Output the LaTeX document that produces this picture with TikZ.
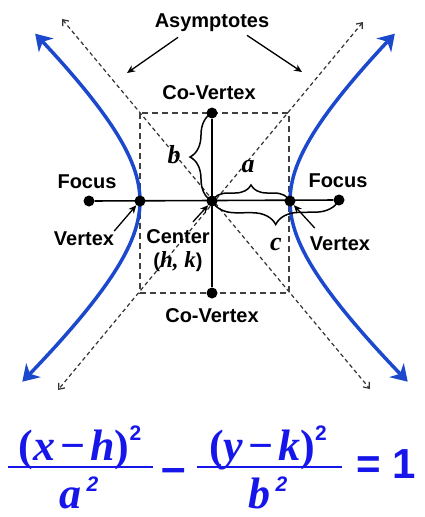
\documentclass[tikz,border=0pt]{standalone}
\usepackage{fontspec}
\setmainfont{Liberation Sans}
\newfontfamily\serifbi{Liberation Serif}
\usetikzlibrary{arrows.meta,positioning,decorations.pathreplacing}
\definecolor{hypblue}{RGB}{28,72,205}
\definecolor{eqblue}{RGB}{22,22,235}
\newcommand\eqit{\serifbi\bfseries\itshape}
\newcommand\equp{\serifbi\bfseries\upshape}
\newcommand\eqsq[1]{\raisebox{#1}{\fontsize{21}{21}\selectfont\rmfamily\bfseries 2}}

\begin{document}
\begin{tikzpicture}[x=1pt,y=-1pt,
lbl/.style={font=\fontsize{20}{22}\selectfont\bfseries,inner sep=0pt,anchor=base},
letter/.style={font=\fontsize{26}{28}\selectfont\eqit,inner sep=0pt,anchor=base},
dot/.style={circle,fill=black,inner sep=0pt,minimum size=11pt},
axis/.style={line width=1.6pt},
box/.style={line width=1.5pt,black!75,dash pattern=on 6pt off 4pt},
asym/.style={line width=1.2pt,black!80,dash pattern=on 4pt off 3pt,{Straight Barb[length=5pt,width=8pt]}-{Straight Barb[length=5pt,width=8pt]}},
branch/.style={line width=3.5pt,hypblue,{Stealth[length=16pt,width=20pt,inset=5pt]}-{Stealth[length=16pt,width=20pt,inset=5pt]}},
ptr/.style={line width=1.3pt,-{Stealth[length=8pt,width=7pt]}},
brc/.style={line width=1.5pt,decorate,decoration={brace,amplitude=#1}},
eqn/.style={font=\fontsize{44}{48}\selectfont,eqblue,inner sep=0pt,anchor=base},
eqbar/.style={line width=1.2pt,eqblue}]
\useasboundingbox (0,0) rectangle (424,517);
% asymptotes and box
\coordinate (aul) at (62,19);
\coordinate (alr) at (370,389);
\coordinate (aur) at (363,22);
\coordinate (all) at (58,390);
\draw[asym] (aul) -- (alr);
\draw[asym] (aur) -- (all);
\draw[box] (140,113) rectangle (289,293);
% the two branches
\draw[branch] plot[domain=1.44:-1.51,samples=60,smooth,variable=\t]
  ({215-(75*cosh(\t)+3.2*sinh(\t)^2)},{201-84*sinh(\t)});
\draw[branch] plot[domain=1.44:-1.51,samples=60,smooth,variable=\t]
  ({215+(75*cosh(\t)+3.2*sinh(\t)^2)},{201-84*sinh(\t)});
% points
\node[dot] (ctr) at (212,201) {};
\node[dot] (vl) at (140,201) {};
\node[dot] (vr) at (290,201) {};
\node[dot] (fl) at (89,201) {};
\node[dot] (fr) at (339,200) {};
\node[dot] (cvt) at (212,113) {};
\node[dot] (cvb) at (212,293) {};
\draw[axis] (fl) -- (fr);
\draw[axis] (cvt) -- (cvb);
\draw[brc=22pt] (ctr.center) -- (cvt.center);
\draw[brc=16pt] (ctr.center) -- (vr.center);
\draw[brc=24pt] (fr.center) -- (ctr.center);
\node[letter] (lb) at (174,163) {b};
\node[letter] (la) at (248,172) {a};
\node[letter] (lc) at (276,250) {c};
% labels
\node[lbl] (asy) at (212,27) {Asymptotes};
\node[lbl] (cvtl) at (209,99) {Co-Vertex};
\node[lbl] (cvbl) at (212,322) {Co-Vertex};
\node[lbl] (fll) at (87,188) {Focus};
\node[lbl] (frl) at (338,187) {Focus};
\node[lbl] (vll) at (84,245) {Vertex};
\node[lbl] (vrl) at (340,250) {Vertex};
\node[lbl] (ctrl) at (178,243) {Center};
\node[lbl] (hk) at (178,267) {({\fontsize{23}{24}\selectfont\eqit h, k})};
\coordinate (p1) at (127,73);
\coordinate (p2) at (302,72);
\draw[ptr] ([xshift=-34pt,yshift=-6pt]asy.south) -- (p1);
\draw[ptr] ([xshift=35pt,yshift=-4pt]asy.south) -- (p2);
\draw[ptr] (vll.north east) -- (vl);
\draw[ptr] ([xshift=15pt,yshift=7pt]ctrl.north) -- (ctr);
\draw[ptr] ([xshift=5pt,yshift=8pt]vrl.north west) -- (vr);
% equation
\node[eqn] (num1) at (80,460) {\equp(\eqit x\hspace{5pt}\equp−\hspace{5pt}\eqit h\equp)\eqsq{20pt}};
\node[eqn] (den1) at (79,508) {\eqit a\hspace{5pt}\eqsq{17pt}};
\draw[eqbar] (8,467) -- (153,467);
\node[eqn,font=\fontsize{44}{48}\selectfont\bfseries] (mns) at (174,482) {–};
\node[eqn] (num2) at (268,460) {\equp(\eqit y\hspace{5pt}\equp−\hspace{5pt}\eqit k\equp)\eqsq{20pt}};
\node[eqn] (den2) at (268,508) {\eqit b\hspace{5pt}\eqsq{17pt}};
\draw[eqbar] (197,467) -- (342,467);
\node[eqn,font=\fontsize{42}{46}\selectfont\bfseries] (one) at (386,478) {= 1};
\end{tikzpicture}
\end{document}
